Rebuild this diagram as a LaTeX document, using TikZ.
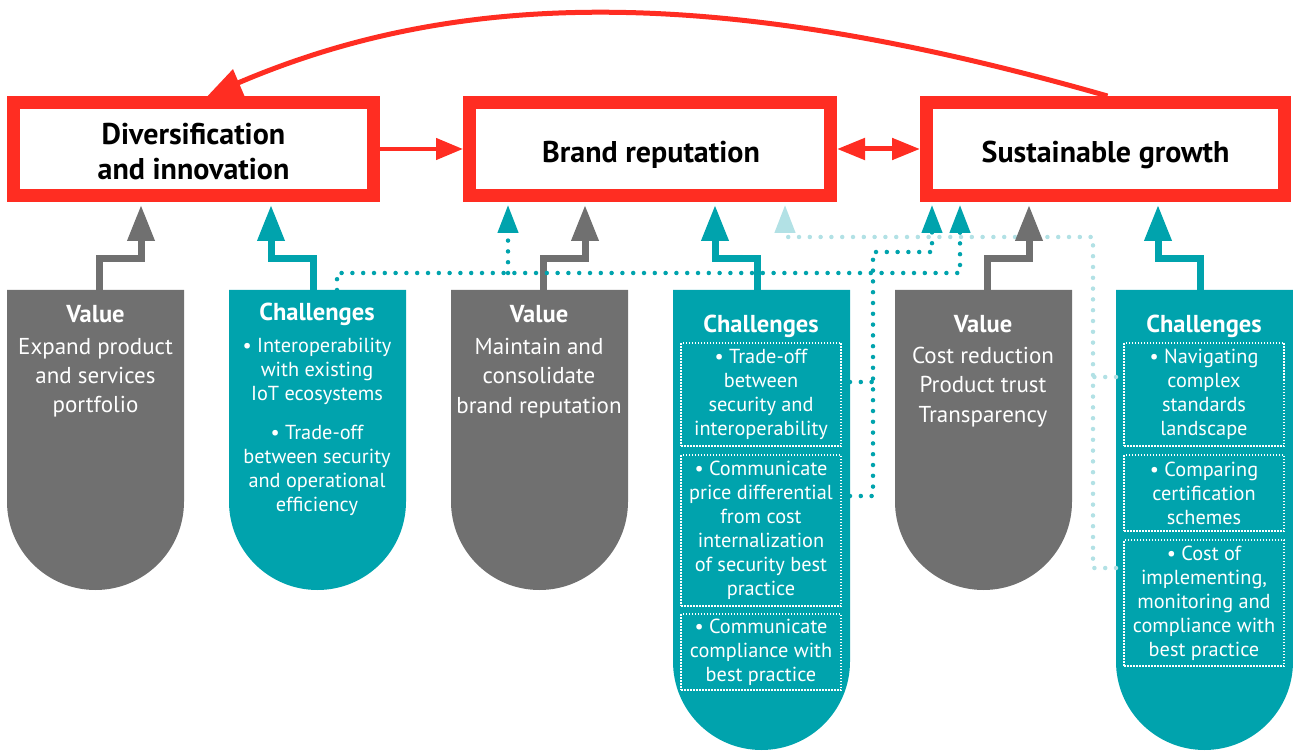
\documentclass[tikz,border=0pt]{standalone}
\usepackage{fontspec}
\setmainfont{PT Sans}
\usetikzlibrary{arrows.meta}
\definecolor{brandred}{RGB}{255,45,34}
\definecolor{valgray}{RGB}{112,112,112}
\definecolor{chteal}{RGB}{0,163,173}
\definecolor{paleteal}{RGB}{178,225,229}

% pill: flat top at y=290, half-round bottom; #1 colour, #2 left x, #3 bottom y
\newcommand\pillfill[3]{%
  \fill[#1] (#2,290) -- (#2+177,290) -- (#2+177,#3-88.5)
    .. controls (#2+177,#3-39.6) and (#2+137.4,#3) .. (#2+88.5,#3)
    .. controls (#2+39.6,#3) and (#2,#3-39.6) .. (#2,#3-88.5) -- cycle;}

\begin{document}
\begin{tikzpicture}[x=1pt,y=-1pt,
  titlebox/.style={draw=brandred, line width=13pt, fill=white, inner sep=0pt, minimum height=93pt},
  titletext/.style={inner sep=0pt, align=center, font=\bfseries\fontsize{30}{35}\selectfont},
  linkarrow/.style={draw=brandred, line width=4.5pt, -{Triangle[length=27pt,width=21pt]}},
  linkboth/.style={draw=brandred, line width=5pt,
    {Triangle[length=28pt,width=21pt]}-{Triangle[length=28pt,width=21pt]}},
  returnarc/.style={draw=brandred, line width=5pt, -{Triangle[length=34pt,width=28pt]}},
  feedgray/.style={draw=valgray, line width=7pt, -{Triangle[length=36pt,width=26pt]}},
  feedteal/.style={draw=chteal, line width=7pt, -{Triangle[length=36pt,width=26pt]}},
  dotlink/.style={line width=4.5pt, line cap=round, dash pattern=on 0pt off 10.8pt},
  dotdark/.style={dotlink, draw=chteal},
  dotpale/.style={dotlink, draw=paleteal},
  dottip/.style={-{Triangle[length=28pt,width=20pt]}},
  pillhead/.style={text=white, inner sep=0pt, anchor=base, font=\bfseries\fontsize{24.5}{29}\selectfont},
  pilltext/.style={text=white, inner sep=0pt, anchor=north, align=center, font=\fontsize{23}{29.3}\selectfont},
  itemtext/.style={text=white, inner sep=0pt, align=center, font=\fontsize{20.3}{24}\selectfont},
  itembox/.style={itemtext, draw=white, line width=1.5pt, dash pattern=on 1.5pt off 1.5pt, minimum width=160pt}
]
\useasboundingbox (0,0) rectangle (1293,751);

% value / challenge pills
\pillfill{valgray}{7}{590}
\pillfill{chteal}{229}{590}
\pillfill{valgray}{451}{590}
\pillfill{chteal}{673}{750}
\pillfill{valgray}{895}{590}
\pillfill{chteal}{1116}{750}

% goal boxes and their titles
\node[titlebox, minimum width=360pt] (b1) at (193.5,149) {};
\node[titlebox, minimum width=361pt] (b2) at (650,149) {};
\node[titlebox, minimum width=358pt] (b3) at (1105.5,149) {};
\node[titletext] (b1t) at (193.5,152) {Diversification\\and innovation};
\node[titletext] (b2t) at (651,155) {Brand reputation};
\node[titletext] (b3t) at (1105.5,155) {Sustainable growth};

\draw[linkarrow] (b1.east) -- (b2.west);
\draw[linkboth] (b2.east) -- (b3.west);
\draw[returnarc] ([xshift=2pt]b3.north) .. controls (720,-15) and (460,-12) .. ([xshift=14pt]b1.north);

% pill texts
\node[pillhead] (h1) at (95.5,323) {Value};
\node[pilltext] (v1) at (95.5,338) {Expand product\\and services\\portfolio};
\node[pillhead] (h2) at (317,320) {Challenges};
\node[itemtext, anchor=north] (c1) at (317,337.5) {• Interoperability\\with existing\\IoT ecosystems\\[15.5pt]• Trade-off\\between security\\and operational\\efficiency};
\node[pillhead] (h3) at (539,323) {Value};
\node[pilltext] (v2) at (539,338) {Maintain and\\consolidate\\brand reputation};
\node[pillhead] (h4) at (761,333) {Challenges};
\node[itembox, minimum height=103pt] (c2a) at (761,394.5) {• Trade-off\\between\\security and\\interoperability};
\node[itembox, minimum height=151pt] (c2b) at (761,530.5) {• Communicate\\price differential\\from cost\\internalization\\of security best\\practice};
\node[itembox, minimum height=76pt] (c2c) at (761,652) {• Communicate\\compliance with\\best practice};
\node[pillhead] (h5) at (983,333) {Value};
\node[pilltext] (v3) at (983,347) {Cost reduction\\Product trust\\Transparency};
\node[pillhead] (h6) at (1204,333) {Challenges};
\node[itembox, minimum height=103pt] (c3a) at (1204,394.5) {• Navigating\\complex\\standards\\landscape};
\node[itembox, minimum height=76pt] (c3b) at (1204,493) {• Comparing\\certification\\schemes};
\node[itembox, minimum height=126pt] (c3c) at (1204,603) {• Cost of\\implementing,\\monitoring and\\compliance with\\best practice};

% connector end points
\coordinate (g1s) at (99,292);   \coordinate (g1e) at (141,205);
\coordinate (t1s) at (313,292);  \coordinate (t1e) at (271,205);
\coordinate (g2s) at (543,292);  \coordinate (g2e) at (585,205);
\coordinate (t2s) at (757,292);  \coordinate (t2e) at (715,205);
\coordinate (g3s) at (987,292);  \coordinate (g3e) at (1029,205);
\coordinate (t3s) at (1200,292); \coordinate (t3e) at (1158,205);
\coordinate (d1s) at (337,290);  \coordinate (d1e) at (960,205); \coordinate (d1b) at (508,205);
\coordinate (d2a) at (850,496);  \coordinate (d2b) at (850,382); \coordinate (d2e) at (932,205);
\coordinate (l1a) at (1116,568); \coordinate (l1b) at (1116,377); \coordinate (l1e) at (785,205);

% pale dotted link from the growth challenges
\draw[dotpale, dottip] (l1a) -- (1093,568) -- (1093,237) -- (785,237) -- (l1e);
\draw[dotpale] (l1b) -- (1093,377);

% stepped feed arrows
\draw[feedgray] (g1s) -- ++(0,-33) -| (g1e);
\draw[feedteal] (t1s) -- ++(0,-33) -| (t1e);
\draw[feedgray] (g2s) -- ++(0,-33) -| (g2e);
\draw[feedteal] (t2s) -- ++(0,-33) -| (t2e);
\draw[feedgray] (g3s) -- ++(0,-33) -| (g3e);
\draw[feedteal] (t3s) -- ++(0,-33) -| (t3e);

% dark dotted links
\draw[dotdark, dottip] (d1s) -- ++(0,-17) -| (d1e);
\draw[dotdark, dottip] (508,273) -- (d1b);
\draw[dotdark, dottip] (d2a) -- (873,496) -- (873,252) -| (d2e);
\draw[dotdark] (d2b) -- (873,382);
\end{tikzpicture}
\end{document}
